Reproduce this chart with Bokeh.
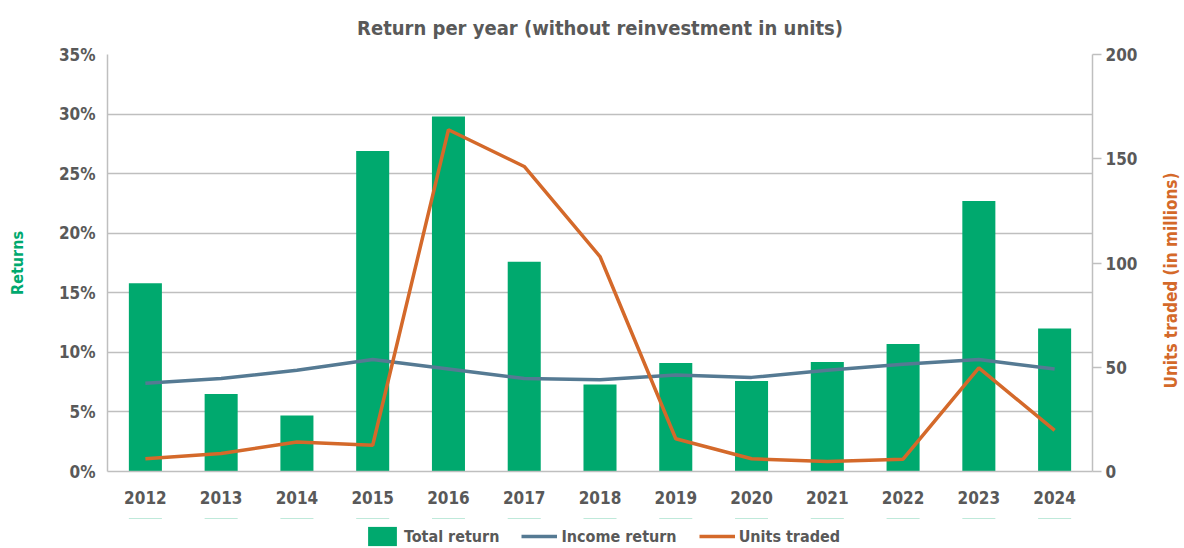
import math
from bokeh.plotting import figure
from bokeh.layouts import column, row
from bokeh.models import (Range1d, LinearAxis, Legend, LegendItem, PrintfTickFormatter,
                          FixedTicker, Label)
from bokeh.embed import file_html
from bokeh.resources import INLINE

years = ["2012", "2013", "2014", "2015", "2016", "2017", "2018",
         "2019", "2020", "2021", "2022", "2023", "2024"]
total_return = [15.8, 6.5, 4.7, 26.9, 29.8, 17.6, 7.3, 9.1, 7.6, 9.2, 10.7, 22.7, 12.0]
income_return = [7.4, 7.8, 8.5, 9.4, 8.6, 7.8, 7.7, 8.1, 7.9, 8.5, 9.0, 9.4, 8.6]
units_traded = [6.1, 8.6, 14.1, 12.6, 163.9, 146.3, 103.1, 15.7, 6.1, 4.8, 5.9, 49.7, 19.7]
left_ticks = [0, 5, 10, 15, 20, 25, 30, 35]
right_ticks = [0, 50, 100, 150, 200]
series_names = ["Total return", "Income return", "Units traded"]
title_text = "Return per year (without reinvestment in units)"
left_label = "Returns"
right_label = "Units traded (in millions)"

FONT = "DejaVu Sans Condensed"
GRAY = "#595959"
GREEN = "#00A96E"
BLUE = "#557A93"
ORANGE = "#D4692A"
GRID = "#BFBFBF"
TICK_SIZE = "17px"

# main chart: frame 107..1092 x 54..471
p = figure(x_range=years, y_range=Range1d(0, 35), width=1150, height=518,
           output_backend="svg", toolbar_location=None,
           min_border_left=107, min_border_right=58, min_border_top=54, min_border_bottom=47)
p.extra_y_ranges = {"units": Range1d(0, 200)}

p.title.text = title_text
p.title.align = "center"
p.title.vertical_align = "top"
p.title.text_font = FONT
p.title.text_font_size = "20px"
p.title.text_font_style = "bold"
p.title.text_color = GRAY
p.title.standoff = 25

bars = p.vbar(x=years, top=total_return, width=0.436, color=GREEN, line_color=None)
inc = p.line(x=years, y=income_return, line_width=3.5, color=BLUE)
uni = p.line(x=years, y=units_traded, line_width=3.5, color=ORANGE, y_range_name="units")

p.outline_line_color = None
p.xgrid.grid_line_color = None
p.ygrid.grid_line_color = GRID
p.ygrid.grid_line_width = 1.5
p.ygrid.ticker = FixedTicker(ticks=left_ticks)

ya = p.yaxis[0]
ya.ticker = FixedTicker(ticks=left_ticks)
ya.formatter = PrintfTickFormatter(format="%d%%")
ya.axis_line_color = GRID
ya.axis_line_width = 1.5
ya.major_tick_line_color = None
ya.major_tick_in = 0
ya.major_tick_out = 0
ya.minor_tick_line_color = None
ya.major_label_standoff = 12
ya.major_label_text_font = FONT
ya.major_label_text_font_size = TICK_SIZE
ya.major_label_text_font_style = "bold"
ya.major_label_text_color = GRAY
ya.axis_label = left_label
ya.axis_label_text_font = FONT
ya.axis_label_text_font_size = "16px"
ya.axis_label_text_font_style = "bold"
ya.axis_label_text_color = GREEN
ya.axis_label_standoff = 29

xa = p.xaxis[0]
xa.axis_line_color = GRID
xa.axis_line_width = 1.5
xa.major_tick_line_color = None
xa.major_tick_in = 0
xa.major_tick_out = 0
xa.minor_tick_line_color = None
xa.major_label_standoff = 19
xa.major_label_text_font = FONT
xa.major_label_text_font_size = TICK_SIZE
xa.major_label_text_font_style = "bold"
xa.major_label_text_color = GRAY

ra = LinearAxis(y_range_name="units", ticker=FixedTicker(ticks=right_ticks))
ra.axis_line_color = GRID
ra.axis_line_width = 1.5
ra.major_tick_line_color = GRID
ra.major_tick_line_width = 1.5
ra.major_tick_in = 0
ra.major_tick_out = 9
ra.minor_tick_line_color = None
ra.major_label_standoff = 4
ra.major_label_text_font = FONT
ra.major_label_text_font_size = TICK_SIZE
ra.major_label_text_font_style = "bold"
ra.major_label_text_color = GRAY
p.add_layout(ra, "right")

# strip on the right holding the secondary axis title (reads bottom-to-top)
rl = figure(width=34, height=518, x_range=Range1d(0, 1), y_range=Range1d(0, 1),
            x_axis_type=None, y_axis_type=None, output_backend="svg",
            toolbar_location=None, min_border_left=0, min_border_right=0,
            min_border_top=54, min_border_bottom=47, outline_line_color=None)
rl.add_layout(Label(x=0.6, y=0.458, text=right_label, angle=math.pi / 2,
                    text_align="center", text_baseline="middle",
                    text_font=FONT, text_font_size="17px", text_font_style="bold",
                    text_color=ORANGE))

# legend strip below the chart; its proxy glyphs lie outside the strip's range
lg = figure(width=1184, height=30, x_range=years, y_range=Range1d(-400, -300),
            x_axis_type=None, y_axis_type=None, output_backend="svg",
            toolbar_location=None, min_border_left=107, min_border_right=92,
            min_border_top=0, min_border_bottom=0, outline_line_color=None)
lb = lg.vbar(x=years, top=total_return, bottom=total_return, width=0.436,
             color=GREEN, line_color=None)
li = lg.line(x=years, y=income_return, line_width=3.5, color=BLUE)
lu = lg.line(x=years, y=units_traded, line_width=3.5, color=ORANGE)
legend = Legend(items=[LegendItem(label=series_names[0], renderers=[lb]),
                       LegendItem(label=series_names[1], renderers=[li]),
                       LegendItem(label=series_names[2], renderers=[lu])],
                orientation="horizontal", location=(257, 0),
                label_text_font=FONT, label_text_font_size="16px",
                label_text_font_style="bold", label_text_color=GRAY,
                glyph_width=36, glyph_height=24, spacing=22, label_standoff=4,
                padding=0, margin=0, border_line_color=None, background_fill_alpha=0)
lg.add_layout(legend, "center")

layout = column(row(p, rl, spacing=0), lg, spacing=0)
open("out.html", "w").write(file_html(layout, INLINE))
